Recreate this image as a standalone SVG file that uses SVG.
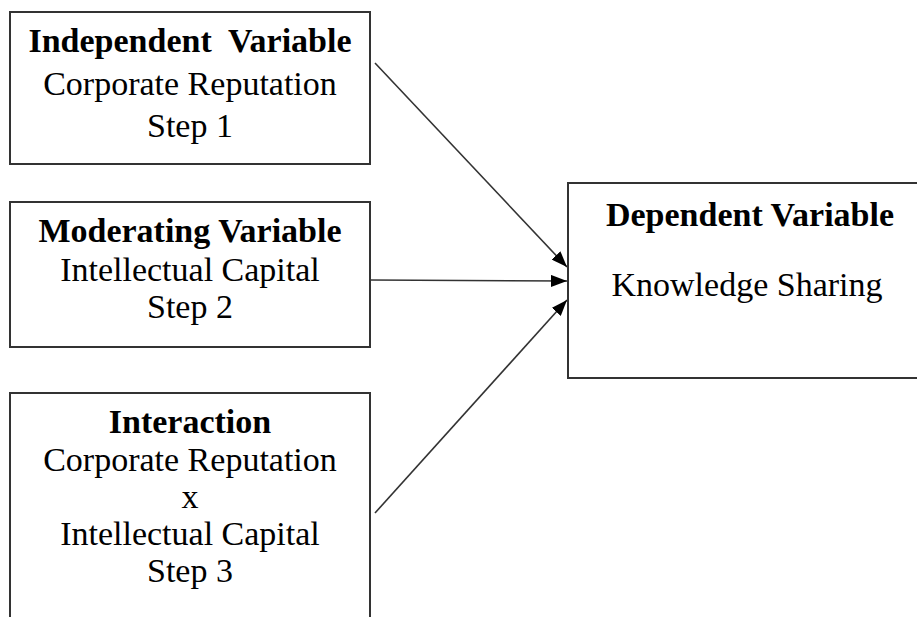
<svg xmlns="http://www.w3.org/2000/svg" width="917" height="617" viewBox="0 0 917 617">
<defs>
<style>
.box{fill:#fff;stroke:#333;stroke-width:2}
.t{font-family:"Liberation Serif","Times New Roman",serif;font-size:34px;fill:#000;text-anchor:middle}
.b{font-weight:bold}
.c{stroke:#333;stroke-width:1.6;fill:none;marker-end:url(#ah)}
</style>
<marker id="ah" viewBox="0 0 16 12" refX="16" refY="6" markerWidth="16" markerHeight="12" markerUnits="userSpaceOnUse" orient="auto">
<path d="M0,0 L16,6 L0,12 z" fill="#000"/>
</marker>
</defs>
<rect width="917" height="617" fill="#fff"/>
<g id="node-independent">
<rect class="box" x="10" y="12" width="360" height="152"/>
<text class="t b" x="190" y="52" xml:space="preserve">Independent  Variable</text>
<text class="t" x="190" y="95">Corporate Reputation</text>
<text class="t" x="190" y="137">Step 1</text>
</g>
<g id="node-moderating">
<rect class="box" x="10" y="202" width="360" height="145"/>
<text class="t b" x="190" y="242">Moderating Variable</text>
<text class="t" x="190" y="281">Intellectual Capital</text>
<text class="t" x="190" y="318">Step 2</text>
</g>
<g id="node-interaction">
<rect class="box" x="10" y="393" width="360" height="240"/>
<text class="t b" x="190" y="433">Interaction</text>
<text class="t" x="190" y="471">Corporate Reputation</text>
<text class="t" x="190" y="508">x</text>
<text class="t" x="190" y="545">Intellectual Capital</text>
<text class="t" x="190" y="582">Step 3</text>
</g>
<g id="node-dependent">
<rect class="box" x="568" y="183" width="360" height="195"/>
<text class="t b" x="750" y="226">Dependent Variable</text>
<text class="t" x="747" y="296">Knowledge Sharing</text>
</g>
<g id="connectors">
<line class="c" x1="375" y1="63" x2="567" y2="267"/>
<line class="c" x1="370" y1="280" x2="567" y2="281"/>
<line class="c" x1="375" y1="513" x2="567" y2="300"/>
</g>
</svg>
